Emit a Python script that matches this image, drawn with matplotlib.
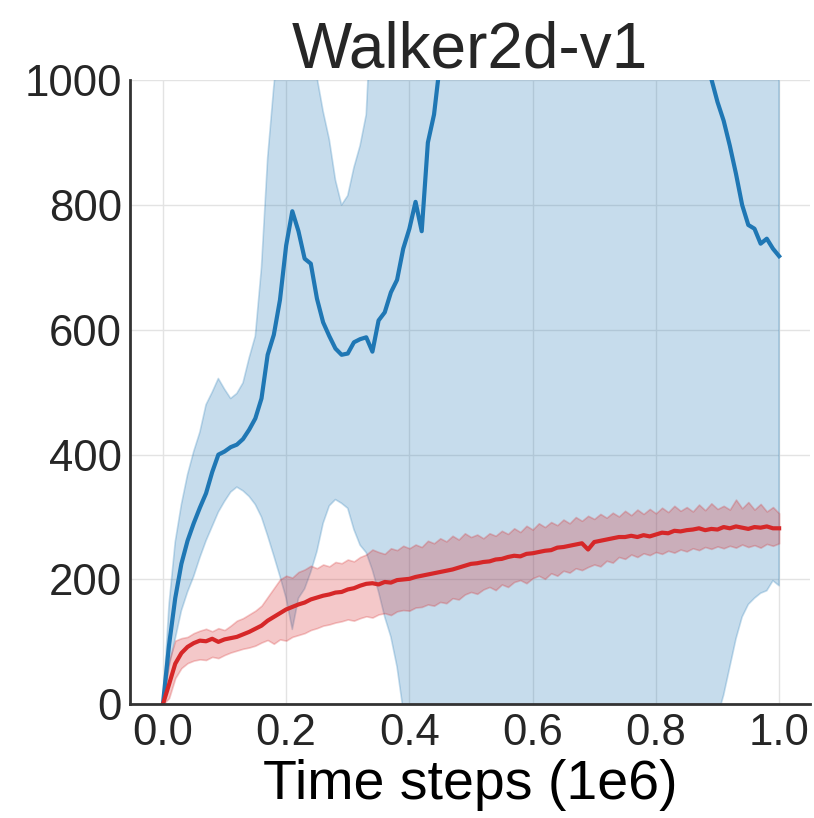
import matplotlib.pyplot as plt
import numpy as np

plt.rcParams['font.family'] = ['Liberation Sans', 'DejaVu Sans']
plt.rcParams['text.color'] = '#262626'

# time steps (1e6), one sample every 0.01
steps = np.linspace(0.0, 1.0, 101)

# blue run: mean and band
blue_mean = [0, 95, 170, 225, 262, 290, 315, 338, 372, 400,
             405, 412, 416, 425, 440, 458, 490, 560, 592, 648,
             735, 790, 758, 714, 706, 650, 612, 590, 570, 560,
             562, 580, 585, 588, 565, 615, 628, 660, 680, 730,
             762, 805, 758, 900, 945, 1030, 1080, 1120, 1160, 1200,
             1230, 1260, 1280, 1300, 1320, 1330, 1340, 1350, 1355, 1360,
             1360, 1355, 1350, 1345, 1340, 1330, 1320, 1310, 1300, 1290,
             1280, 1270, 1260, 1250, 1240, 1230, 1215, 1200, 1185, 1170,
             1150, 1130, 1110, 1090, 1070, 1055, 1040, 1025, 1012, 1002,
             965, 935, 895, 850, 800, 768, 762, 738, 746, 730,
             718]
blue_upper = [0, 160, 260, 320, 368, 405, 436, 480, 500, 522,
              505, 490, 498, 515, 555, 590, 700, 875, 990, 1080,
              1120, 1140, 1120, 1080, 1030, 1005, 950, 905, 840, 800,
              815, 860, 895, 945, 1150, 1250, 1300, 1350, 1400, 1450,
              1500, 1550, 1600, 1650, 1700, 1750, 1800, 1850, 1900, 1950,
              2000, 2050, 2100, 2150, 2200, 2250, 2300, 2350, 2400, 2450,
              2500, 2500, 2500, 2480, 2460, 2440, 2420, 2400, 2380, 2360,
              2340, 2320, 2300, 2280, 2260, 2240, 2220, 2200, 2180, 2160,
              2140, 2120, 2100, 2080, 2060, 2040, 2020, 2000, 1980, 1960,
              1940, 1920, 1900, 1880, 1860, 1840, 1820, 1800, 1780, 1760,
              1740]
blue_lower = [0, 60, 105, 150, 180, 205, 235, 262, 285, 308,
              325, 340, 348, 342, 333, 320, 300, 270, 238, 205,
              170, 120, 170, 185, 212, 245, 290, 318, 328, 322,
              314, 280, 255, 243, 215, 180, 140, 108, 60, -10,
              -60, -100, -140, -180, -220, -250, -280, -300, -320, -340,
              -350, -360, -370, -380, -390, -400, -400, -400, -400, -400,
              -400, -395, -390, -385, -380, -370, -360, -350, -340, -330,
              -320, -310, -300, -290, -280, -270, -260, -250, -240, -230,
              -220, -200, -180, -160, -140, -120, -100, -80, -60, -40,
              -20, 15, 60, 105, 140, 160, 170, 178, 182, 198,
              190]

# red run: mean and band
red_mean = [0, 32, 65, 82, 92, 98, 102, 101, 105, 100,
            104, 106, 108, 112, 116, 121, 126, 134, 140, 146,
            152, 156, 160, 163, 168, 171, 174, 176, 179, 180,
            184, 186, 190, 193, 194, 192, 196, 195, 199, 200,
            201, 204, 206, 208, 210, 212, 214, 216, 219, 222,
            225, 226, 228, 229, 232, 233, 236, 238, 237, 241,
            242, 244, 246, 247, 251, 252, 254, 256, 258, 248,
            260, 262, 264, 266, 268, 268, 270, 268, 271, 269,
            272, 275, 274, 278, 277, 279, 280, 282, 279, 281,
            280, 284, 282, 285, 283, 281, 284, 283, 285, 282,
            282]
red_upper = [5, 70, 102, 106, 108, 114, 118, 121, 117, 122,
             119, 126, 134, 138, 144, 150, 158, 172, 186, 200,
             206, 203, 212, 216, 222, 218, 224, 221, 228, 226,
             232, 229, 236, 240, 248, 244, 241, 250, 247, 254,
             250, 256, 252, 262, 258, 266, 261, 270, 264, 274,
             268, 272, 266, 274, 270, 278, 273, 282, 276, 286,
             280, 290, 284, 292, 287, 296, 290, 300, 294, 302,
             297, 305, 299, 307, 301, 310, 303, 312, 305, 313,
             306, 315, 308, 318, 310, 316, 309, 320, 311, 322,
             313, 318, 312, 328, 314, 324, 312, 321, 309, 316,
             306]
red_lower = [0, 10, 42, 58, 66, 70, 72, 71, 76, 74,
             79, 83, 86, 89, 91, 94, 99, 103, 97, 104,
             102, 108, 111, 114, 119, 122, 126, 128, 131, 133,
             136, 134, 138, 141, 139, 144, 146, 143, 149, 151,
             150, 155, 156, 160, 158, 164, 162, 170, 168, 176,
             180, 177, 184, 188, 183, 192, 188, 196, 199, 194,
             202, 206, 201, 210, 206, 214, 211, 218, 215, 220,
             224, 221, 230, 227, 236, 233, 240, 236, 242, 239,
             244, 241, 246, 243, 248, 245, 250, 247, 252, 249,
             253, 250, 254, 251, 256, 252, 255, 251, 257, 254,
             258]

blue = '#1f77b4'
red = '#d62728'

fig = plt.figure(figsize=(8.14, 8.18), dpi=100)
ax = fig.add_axes([0.160, 0.139, 0.835, 0.763])

ax.fill_between(steps, blue_lower, blue_upper, color=blue, alpha=0.25, lw=1.2)
ax.plot(steps, blue_mean, color=blue, lw=3.0)
ax.fill_between(steps, red_lower, red_upper, color=red, alpha=0.25, lw=1.2)
ax.plot(steps, red_mean, color=red, lw=3.0)

ax.set_xlim(-0.053, 1.05)
ax.set_ylim(0, 1000)
ax.set_xticks([0.0, 0.2, 0.4, 0.6, 0.8, 1.0])
ax.set_yticks([0, 200, 400, 600, 800, 1000])
ax.grid(True, color='#e3e3e3', lw=1.0)
ax.set_axisbelow(True)

for side in ['top', 'right']:
    ax.spines[side].set_visible(False)
for side in ['left', 'bottom']:
    ax.spines[side].set_color('#333333')
    ax.spines[side].set_linewidth(2.0)

ax.tick_params(length=0, labelsize=31.5, pad=6, colors='#262626')
ax.set_xlabel('Time steps (1e6)', fontsize=40, labelpad=4)
ax.set_title('Walker2d-v1', fontsize=46, pad=8)

plt.savefig('out.png', dpi=100)
